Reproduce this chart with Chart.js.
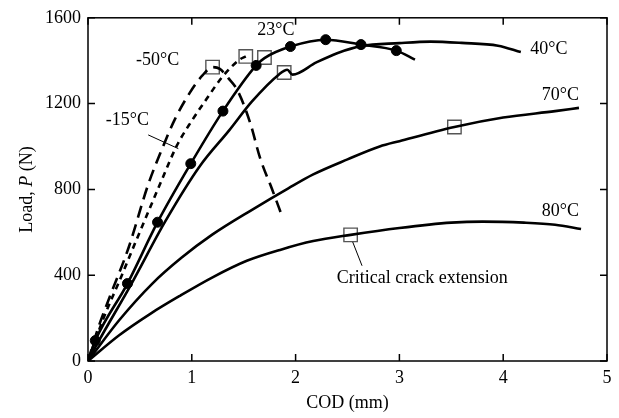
<!DOCTYPE html>
<html>
<head>
<meta charset="utf-8">
<script src="https://cdn.jsdelivr.net/npm/chart.js@4.4.1/dist/chart.umd.min.js"></script>
<style>
  html, body { margin: 0; padding: 0; background: #fff; }
  #wrap { width: 619px; height: 418px; }
</style>
</head>
<body>
<div id="wrap"><canvas id="chart"></canvas></div>
<script>
// COD (mm) / load (N)
const m50X = [0, 0.10, 0.21, 0.39, 0.58, 0.71, 0.84, 0.98, 1.10, 1.20, 1.27, 1.35, 1.44, 1.56, 1.66, 1.77, 1.87];
const m50Y = [0, 157, 300, 527, 823, 985, 1130, 1250, 1330, 1370, 1362, 1320, 1262, 1114, 943, 805, 675];

const m15X = [0, 0.15, 0.30, 0.45, 0.69, 0.86, 1.0, 1.14, 1.29, 1.46, 1.52];
const m15Y = [0, 200, 370, 545, 820, 1008, 1120, 1220, 1322, 1405, 1420];

const t23X = [0, 0.07, 0.38, 0.67, 0.99, 1.30, 1.62, 1.70, 1.95, 2.29, 2.63, 2.97, 3.15];
const t23Y = [0, 95, 361, 647, 920, 1165, 1378, 1412, 1466, 1498, 1475, 1447, 1405];
const dot23X = [0.07, 0.38, 0.67, 0.99, 1.30, 1.62, 1.95, 2.29, 2.63, 2.97];
const dot23Y = [95, 361, 647, 920, 1165, 1378, 1466, 1498, 1475, 1447];

const t40X = [0, 0.1, 0.42, 0.74, 1.08, 1.36, 1.58, 1.84, 1.92, 1.97, 2.2, 2.4, 2.63, 3.0, 3.3, 3.6, 3.95, 4.17];
const t40Y = [0, 90, 361, 647, 910, 1075, 1210, 1336, 1358, 1335, 1392, 1435, 1468, 1482, 1489, 1483, 1470, 1440];

const t70X = [0, 0.3, 0.62, 0.9, 1.2, 1.58, 1.93, 2.17, 2.5, 2.81, 3.0, 3.53, 4.0, 4.5, 4.73];
const t70Y = [0, 190, 361, 481, 590, 705, 805, 870, 940, 1000, 1025, 1091, 1135, 1165, 1180];

const t80X = [0, 0.3, 0.6, 0.89, 1.2, 1.53, 1.85, 2.17, 2.53, 3.0, 3.5, 3.8, 4.2, 4.5, 4.75];
const t80Y = [0, 120, 220, 305, 390, 467, 518, 559, 588, 620, 645, 650, 645, 635, 615];

// critical crack extension markers
const critX = [1.20, 1.52, 1.70, 1.89, 3.53, 2.53];
const critY = [1370, 1420, 1415, 1345, 1091, 588];

const xTicks = [0, 1, 2, 3, 4, 5];
const yTicks = [0, 400, 800, 1200, 1600];

function pts(xs, ys) {
    return xs.map((x, i) => ({ x: x, y: ys[i] }));
}

const serif = '"Liberation Serif", "Times New Roman", serif';

function curve(xs, ys, dash) {
    return {
        data: pts(xs, ys),
        borderColor: '#000',
        borderWidth: 2.6,
        borderDash: dash || [],
        pointRadius: 0,
        cubicInterpolationMode: 'monotone',
        showLine: true,
        fill: false
    };
}

// frame, inward ticks, labels
const decor = {
    id: 'decor',
    afterDraw(chart) {
        const ctx = chart.ctx;
        const a = chart.chartArea;
        const xs = chart.scales.x, ys = chart.scales.y;
        ctx.save();
        ctx.strokeStyle = '#000';
        ctx.lineWidth = 1.5;
        ctx.strokeRect(a.left, a.top, a.right - a.left, a.bottom - a.top);
        ctx.beginPath();
        xTicks.forEach(v => {
            const px = xs.getPixelForValue(v);
            ctx.moveTo(px, a.bottom); ctx.lineTo(px, a.bottom - 7);
            ctx.moveTo(px, a.top); ctx.lineTo(px, a.top + 7);
        });
        yTicks.forEach(v => {
            const py = ys.getPixelForValue(v);
            ctx.moveTo(a.left, py); ctx.lineTo(a.left + 7, py);
            ctx.moveTo(a.right, py); ctx.lineTo(a.right - 7, py);
        });
        ctx.stroke();

        // leader lines
        ctx.lineWidth = 1;
        ctx.beginPath();
        ctx.moveTo(xs.getPixelForValue(0.58), ys.getPixelForValue(1054));
        ctx.lineTo(xs.getPixelForValue(0.87), ys.getPixelForValue(990));
        ctx.moveTo(xs.getPixelForValue(2.55), ys.getPixelForValue(555));
        ctx.lineTo(xs.getPixelForValue(2.64), ys.getPixelForValue(444));
        ctx.stroke();

        ctx.fillStyle = '#000';
        ctx.font = '18px ' + serif;
        ctx.textAlign = 'center';
        ctx.textBaseline = 'middle';
        const labels = [
            ['23°C', 1.81, 1544], ['-50°C', 0.67, 1401], ['-15°C', 0.38, 1124],
            ['40°C', 4.44, 1452], ['70°C', 4.55, 1239], ['80°C', 4.55, 698],
            ['Critical crack extension', 3.22, 384]
        ];
        labels.forEach(l => ctx.fillText(l[0], xs.getPixelForValue(l[1]), ys.getPixelForValue(l[2])));

        // y axis title with italic P
        ctx.save();
        ctx.translate(27, ys.getPixelForValue(800));
        ctx.rotate(-Math.PI / 2);
        const p1 = 'Load, ', p2 = 'P', p3 = ' (N)';
        ctx.font = '18px ' + serif;
        const w1 = ctx.measureText(p1).width, w3 = ctx.measureText(p3).width;
        ctx.font = 'italic 18px ' + serif;
        const w2 = ctx.measureText(p2).width;
        let sx = -(w1 + w2 + w3) / 2;
        ctx.textAlign = 'left';
        ctx.font = '18px ' + serif;
        ctx.fillText(p1, sx, 0);
        ctx.font = 'italic 18px ' + serif;
        ctx.fillText(p2, sx + w1, 0);
        ctx.font = '18px ' + serif;
        ctx.fillText(p3, sx + w1 + w2, 0);
        ctx.restore();

        ctx.restore();
    }
};

new Chart(document.getElementById('chart'), {
    type: 'scatter',
    data: {
        datasets: [
            curve(m50X, m50Y, [12, 7]),
            curve(m15X, m15Y, [6, 5]),
            curve(t23X, t23Y),
            curve(t40X, t40Y),
            curve(t70X, t70Y),
            curve(t80X, t80Y),
            {
                data: pts(dot23X, dot23Y),
                pointRadius: 5,
                pointBackgroundColor: '#000',
                pointBorderColor: '#000',
                showLine: false
            },
            {
                data: pts(critX, critY),
                pointStyle: 'rect',
                pointRadius: 9.5,
                pointBackgroundColor: 'rgba(0,0,0,0)',
                pointBorderColor: '#555',
                pointBorderWidth: 1.4,
                showLine: false
            }
        ]
    },
    options: {
        responsive: true,
        maintainAspectRatio: false,
        animation: false,
        layout: { padding: { top: 15, right: 12, left: 0, bottom: 0 } },
        plugins: {
            legend: { display: false },
            tooltip: { enabled: false }
        },
        scales: {
            x: {
                type: 'linear',
                min: 0, max: 5,
                afterFit: s => { s.height = 57; },
                afterBuildTicks: s => { s.ticks = xTicks.map(v => ({ value: v })); },
                grid: { display: false, drawTicks: false },
                border: { display: false },
                ticks: { color: '#000', padding: 6, font: { family: serif, size: 18 }, callback: v => String(v) },
                title: { display: true, text: 'COD (mm)', color: '#000', padding: { top: 6 }, font: { family: serif, size: 18 } }
            },
            y: {
                type: 'linear',
                min: 0, max: 1600,
                afterFit: s => { s.width = 88; },
                afterBuildTicks: s => { s.ticks = yTicks.map(v => ({ value: v })); },
                grid: { display: false, drawTicks: false },
                border: { display: false },
                ticks: { color: '#000', padding: 7, font: { family: serif, size: 18 }, callback: v => String(v) }
            }
        }
    },
    plugins: [decor]
});
</script>
</body>
</html>
